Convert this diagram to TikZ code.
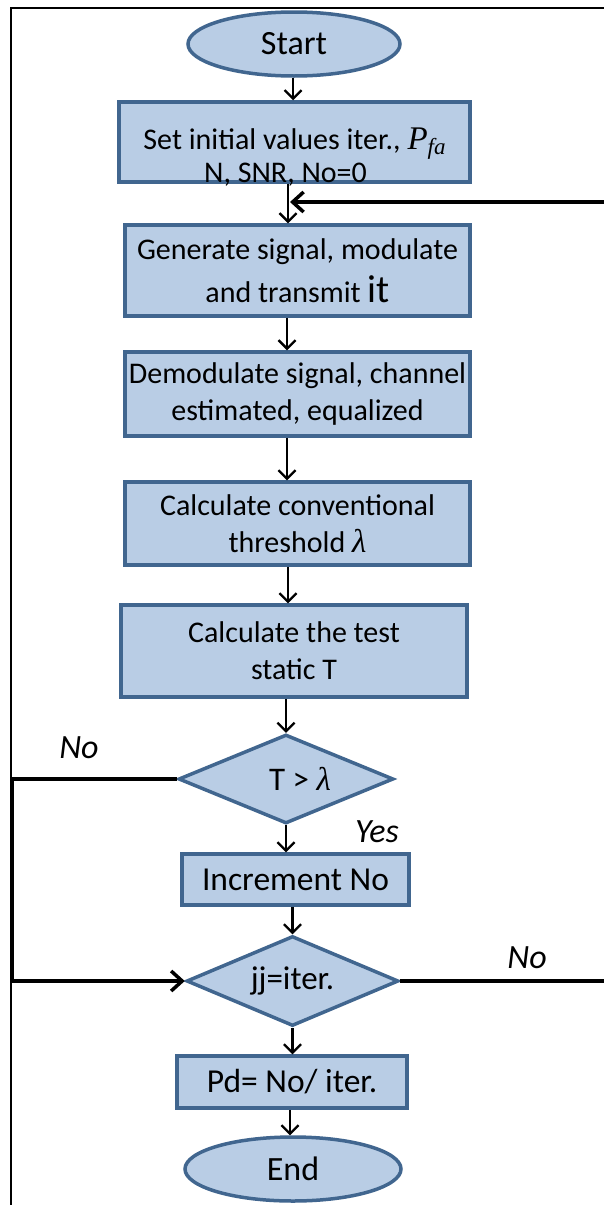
\documentclass[tikz,border=0pt]{standalone}
\usepackage{fontspec}
\setmainfont{Carlito}
\newfontfamily\symserif{Liberation Serif}
\usetikzlibrary{shapes.geometric,arrows.meta,calc}
\definecolor{boxfill}{HTML}{B9CDE5}
\definecolor{boxline}{HTML}{41668F}
% italic serif symbols for the formulas in the boxes
\newcommand{\pfa}{{\symserif\itshape\fontsize{33}{33}\selectfont P\raisebox{-5pt}{\fontsize{23}{23}\selectfont fa}}}
\newcommand{\lam}{{\symserif\itshape\fontsize{33}{33}\selectfont λ}}
\begin{document}
\begin{tikzpicture}[x=1pt,y=-1pt,
  shapebase/.style={draw=boxline, fill=boxfill, line width=3.5pt, inner sep=0pt},
  steptext/.style={align=center, font=\fontsize{30}{37}\selectfont},
  stepbox/.style={shapebase, rectangle, steptext},
  term/.style={shapebase, ellipse, font=\fontsize{34}{40}\selectfont},
  test/.style={shapebase, diamond, aspect=2.4, font=\fontsize{33}{38}\selectfont},
  arr/.style={line width=2.3pt, -{Straight Barb[length=8.5pt,width=17pt,line width=2.3pt]}},
  back/.style={line width=4pt, -{Straight Barb[length=11pt,width=20pt,line width=3.5pt]}},
  answer/.style={font=\fontsize{34}{40}\selectfont\itshape},
  frame/.style={line width=1.3pt},
]
\useasboundingbox (0,0) rectangle (603,1205);

% page frame
\draw[frame] (11,1215) -- (11,8) -- (615,8);

% flow steps
\node[term, minimum width=212, minimum height=64] (start) at (294,44) {Start};
\node[stepbox, minimum width=351, minimum height=80,
      label={[steptext, font=\fontsize{30}{33}\selectfont, yshift=-15pt]center:{Set initial\ values iter., \pfa\\\hspace*{-18pt}N, SNR, No=0}}]
      (b1) at (294.5,142) {};
\node[stepbox, minimum width=345, minimum height=91] (b2) at (297.5,270.5)
      {Generate signal, modulate\\[6pt]and transmit {\fontsize{39}{39}\selectfont it}};
\node[stepbox, minimum width=345, minimum height=84] (b3) at (297.5,394)
      {Demodulate signal, channel\\estimated, equalized};
\node[stepbox, minimum width=345, minimum height=83] (b4) at (297.5,523.5)
      {Calculate conventional\\threshold \lam};
\node[stepbox, minimum width=346, minimum height=92] (b5) at (294,651)
      {Calculate the test\\static T};
\node[test, minimum width=215, minimum height=89] (d1) at (286,779)
      {\hspace*{28pt}T > \lam};
\node[stepbox, font=\fontsize{33.5}{38}\selectfont, minimum width=227, minimum height=51] (b6) at (295.5,879.5)
      {Increment No};
\node[test, minimum width=212, minimum height=90] (d2) at (292.5,981)
      {jj=iter.};
\node[stepbox, font=\fontsize{33.5}{38}\selectfont, minimum width=230, minimum height=52] (b7) at (292,1082)
      {Pd= No/ iter.};
\node[term, minimum width=216, minimum height=64] (end) at (293,1169) {End};

% junction where the outer loop re-enters
\coordinate (fb) at (290,202);

% main flow
\draw[arr] ([xshift=-1pt]start.south) -- ([xshift=-1pt]start.south |- b1.north);
\draw[arr] ([xshift=-6.5pt]b1.south) -- ([xshift=-6.5pt]b1.south |- b2.north);
\draw[arr] ([xshift=-10.5pt]b2.south) -- ([xshift=-10.5pt]b2.south |- b3.north);
\draw[arr] ([xshift=-10.5pt]b3.south) -- ([xshift=-10.5pt]b3.south |- b4.north);
\draw[arr] ([xshift=-9.5pt]b4.south) -- ([xshift=-9.5pt]b4.south |- b5.north);
\draw[arr] (d1.north |- b5.south) -- (d1.north);
\draw[arr] (d1.south) -- (d1.south |- b6.north);
\draw[arr] (d2.north |- b6.south) -- (d2.north);
\draw[arr] (d2.south) -- (d2.south |- b7.north);
\draw[arr] ([xshift=-2pt]b7.south) -- ([xshift=-2pt]b7.south |- end.north);

% loops
\draw[back] (d1.west) -- ++(-164.5,0) |- (d2.west);
\draw[back] (d2.east) -- ++(230,0) |- (fb);

% branch labels
\node[answer, anchor=base] at (79,758) {No};
\node[answer, anchor=base] at (377,842) {Yes};
\node[answer, anchor=base] at (527,968) {No};
\end{tikzpicture}
\end{document}
